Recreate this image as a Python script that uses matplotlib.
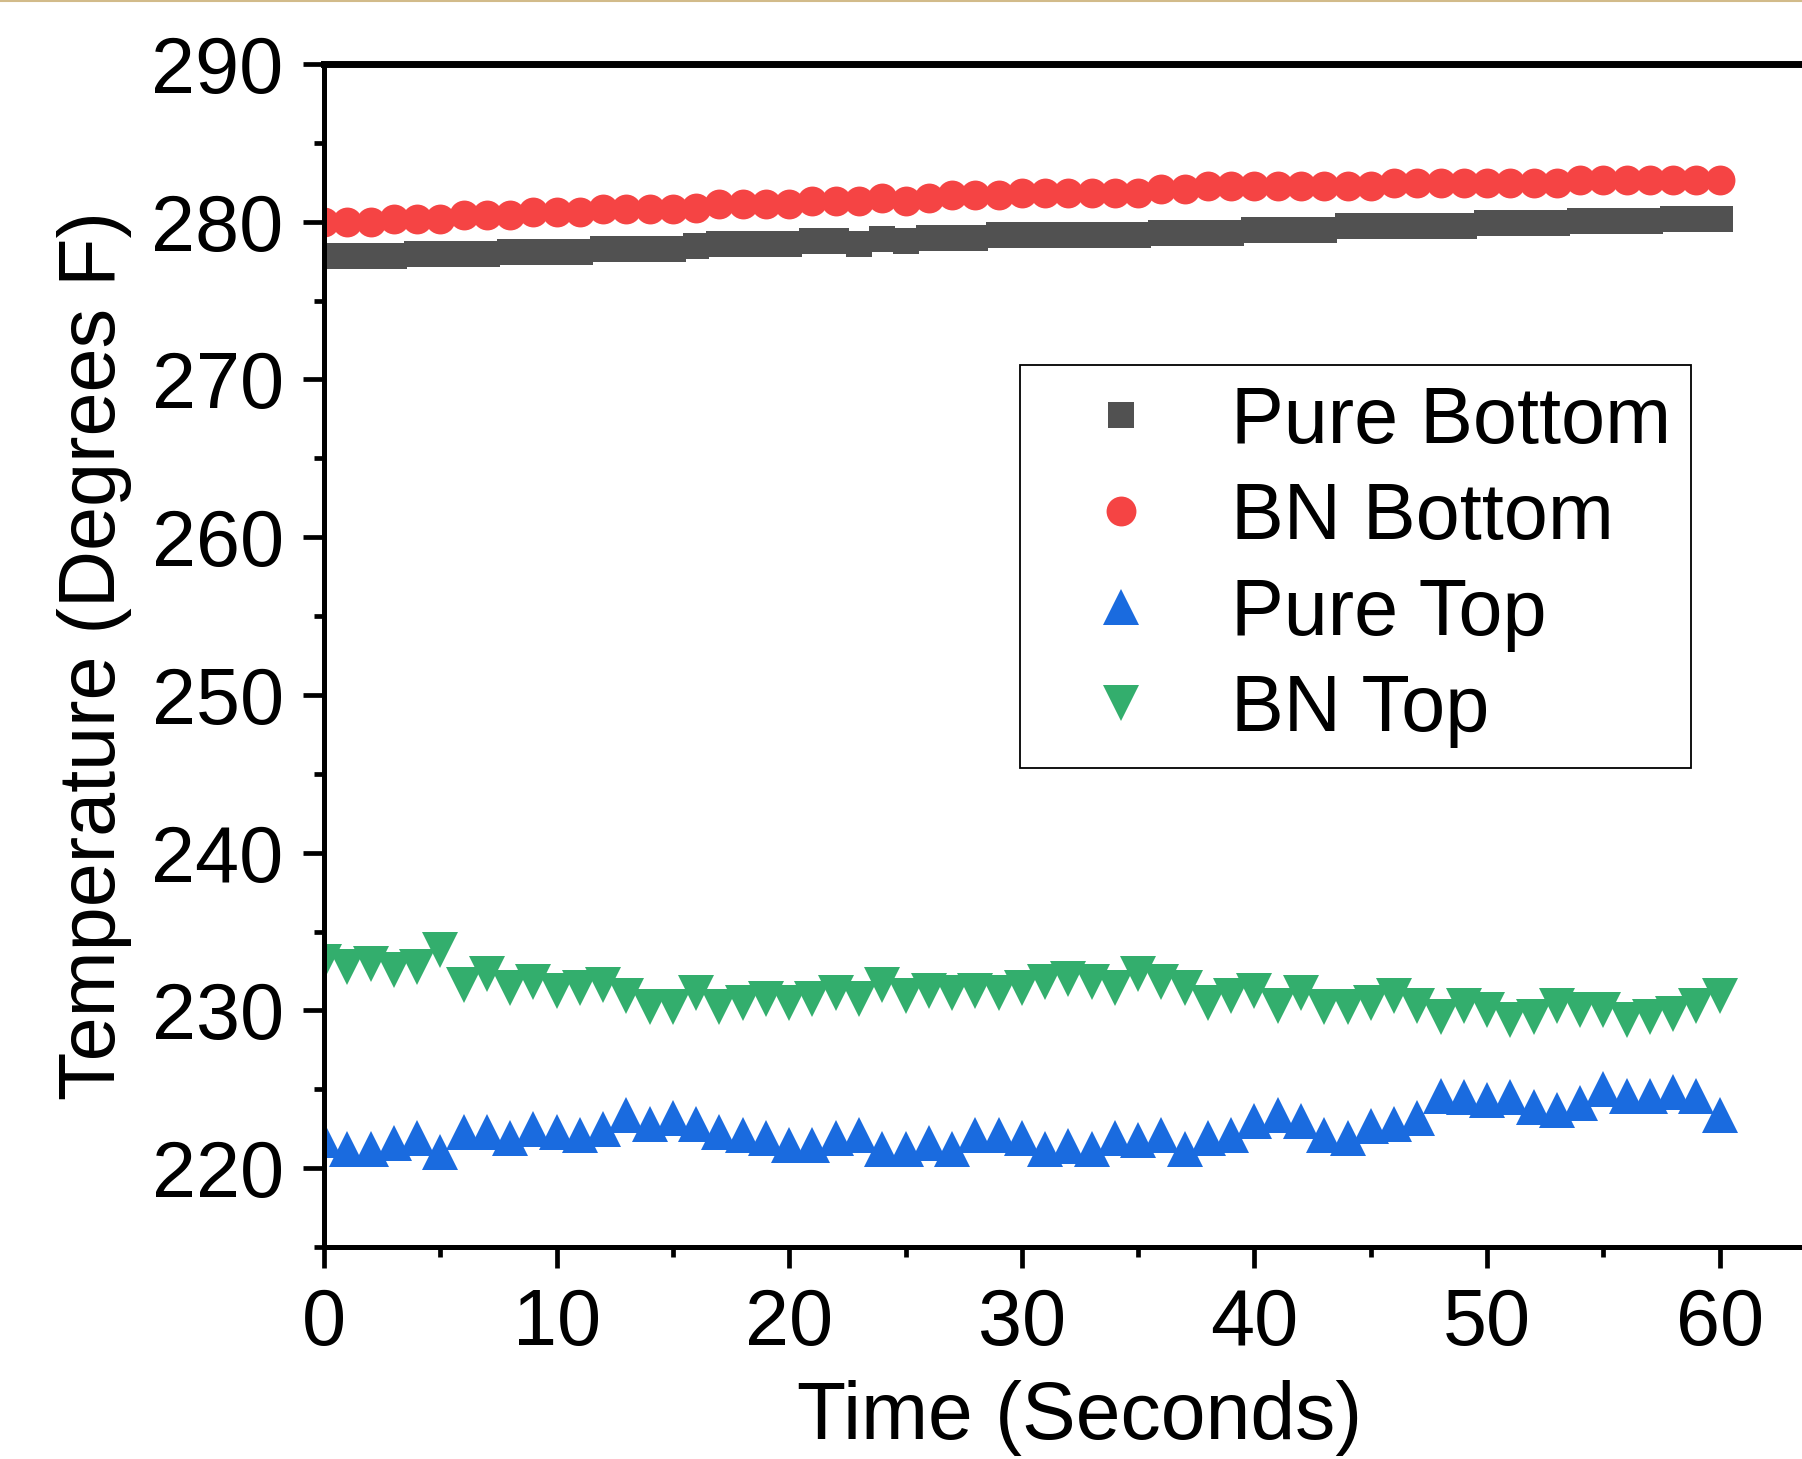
import matplotlib.pyplot as plt
import numpy as np
from matplotlib.lines import Line2D
from matplotlib.ticker import MultipleLocator

plt.rcParams['font.family'] = ['Liberation Sans', 'DejaVu Sans']

time_s = np.arange(0, 61)

pure_bottom = [277.8] * 4 + [277.95] * 4 + [278.1] * 4 + [278.25] * 4 + [278.45] \
    + [278.6] * 4 + [278.75] * 2 + [278.6, 278.9, 278.75] + [279.0] * 3 \
    + [279.15] * 7 + [279.3] * 4 + [279.5] * 4 + [279.7] * 6 + [279.9] * 4 \
    + [280.05] * 4 + [280.2] * 3

bn_bottom = [280.0] * 3 + [280.2] * 3 + [280.4] * 3 + [280.6] * 3 + [280.8] * 4 \
    + [280.9] + [281.1] * 4 + [281.3] * 3 + [281.5, 281.3, 281.5] + [281.7] * 3 \
    + [281.8] * 6 + [282.05] * 2 + [282.25] * 8 + [282.45] * 8 + [282.65] * 7

pure_top = [221.8, 221.2, 221.2, 221.6, 221.9, 221.0, 222.3, 222.3, 221.9, 222.45,
            222.3, 222.1, 222.5, 223.4, 222.8, 223.2, 222.8, 222.3, 222.1, 221.9,
            221.45, 221.45, 221.9, 222.1, 221.2, 221.2, 221.6, 221.2, 222.1, 222.1,
            221.9, 221.2, 221.4, 221.2, 221.9, 221.8, 222.1, 221.2, 221.9, 222.1,
            223.0, 223.4, 223.0, 222.1, 221.9, 222.7, 222.8, 223.2, 224.6, 224.5,
            224.3, 224.5, 223.9, 223.7, 224.1, 225.0, 224.6, 224.6, 224.8, 224.6, 223.4]

bn_top = [233.05, 232.76, 232.95, 232.55, 232.76, 233.86, 231.6, 232.3, 231.4, 231.8,
          231.2, 231.45, 231.6, 230.9, 230.2, 230.2, 231.1, 230.2, 230.5, 230.7,
          230.5, 230.7, 231.1, 230.7, 231.6, 230.9, 231.2, 231.1, 231.2, 231.1,
          231.4, 231.8, 232.0, 231.8, 231.4, 232.3, 231.8, 231.4, 230.5, 230.9,
          231.2, 230.3, 231.1, 230.2, 230.2, 230.5, 230.9, 230.3, 229.6, 230.3,
          230.0, 229.4, 229.6, 230.3, 230.0, 230.0, 229.4, 229.6, 229.8, 230.3, 230.9]

labels = ['Pure Bottom', 'BN Bottom', 'Pure Top', 'BN Top']
colors = ['#515151', '#F54444', '#1A6BDF', '#33AE6D']

fig = plt.figure(figsize=(18.02, 14.59), dpi=100)
ax = fig.add_axes([324 / 1802, 1 - 1247 / 1459, 1512 / 1802, (1247 - 64) / 1459])

ax.plot(time_s, pure_bottom, 's', color=colors[0], ms=18.5, mew=0, label=labels[0])
ax.plot(time_s, bn_bottom, 'o', color=colors[1], ms=21.5, mew=0, label=labels[1])
ax.plot(time_s, pure_top, '^', color=colors[2], ms=26, mew=0, label=labels[2])
ax.plot(time_s, bn_top, 'v', color=colors[3], ms=26, mew=0, label=labels[3])

ax.set_xlim(0, 65)
ax.set_ylim(215, 290)
ax.xaxis.set_minor_locator(MultipleLocator(5))
ax.yaxis.set_minor_locator(MultipleLocator(5))
ax.set_xticks([0, 10, 20, 30, 40, 50, 60])
ax.set_yticks([220, 230, 240, 250, 260, 270, 280, 290])

for side in ['left', 'bottom']:
    ax.spines[side].set_linewidth(3.6)
ax.spines['top'].set_linewidth(5)
ax.spines['right'].set_visible(False)

ax.tick_params(which='major', direction='out', length=15, width=3.4, labelsize=57, pad=14)
ax.tick_params(which='minor', direction='out', length=7.5, width=3.4)

ax.set_xlabel('Time (Seconds)', fontsize=58, labelpad=13)
ax.set_ylabel('Temperature (Degrees F)', fontsize=57, labelpad=14)

leg = ax.legend(loc='upper left', bbox_to_anchor=(1020 / 1802, 1 - 365 / 1459),
                bbox_transform=fig.transFigure, borderaxespad=0, fontsize=57,
                frameon=True, fancybox=False, edgecolor='black', framealpha=1,
                handlelength=2.05, handletextpad=0.36, labelspacing=0.265,
                borderpad=0.25, numpoints=1)
leg.get_frame().set_linewidth(1.3)

fig.add_artist(Line2D([0, 1], [0.9993, 0.9993], transform=fig.transFigure,
                      color='#d2bb8a', lw=1.5))

fig.savefig('out.png', dpi=100)
